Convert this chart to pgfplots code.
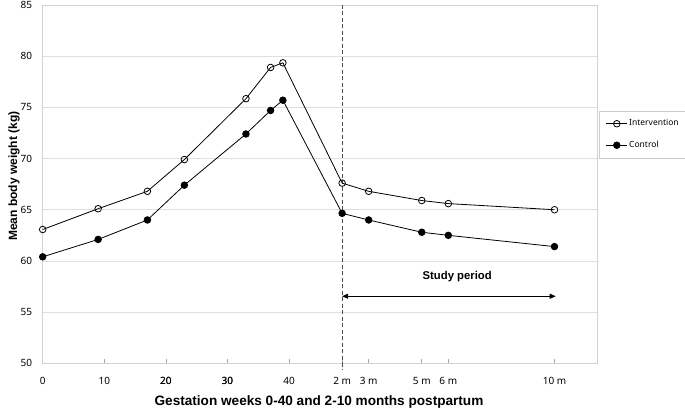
\documentclass[border=0pt]{standalone}
\usepackage{fontspec}
\setmainfont{Noto Sans}
\newfontfamily\labfont{Liberation Sans}
\usepackage{pgfplots}
\pgfplotsset{compat=1.18}
\usetikzlibrary{arrows.meta}
\begin{document}
\begin{tikzpicture}
\begin{axis}[
  scale only axis,
  width=554.3pt, height=358.3pt,
  xmin=0, xmax=90, ymin=50, ymax=85,
  clip=false,
  /pgf/number format/assume math mode=true,
  axis line style={draw=gray!35, line width=0.8pt},
  ytick={50,55,60,65,70,75,80,85},
  ymajorgrids,
  grid style={draw=gray!25, line width=0.8pt},
  ytick style={draw=none},
  xtick={0,10,20,30,40,48.62,52.93,61.55,65.86,83.1},
  xticklabels={0,10,20,30,40,2 m,3 m,5 m,6 m,10 m},
  xtick pos=bottom, ytick pos=left,
  tick align=inside,
  major tick length=4pt,
  xtick style={draw=gray!70, line width=0.7pt},
  tick label style={font=\fontsize{10}{12}\selectfont, inner sep=0pt},
  yticklabel style={anchor=east, xshift=-10.4pt},
  xticklabel style={anchor=north, yshift=-14pt},
  every axis x label/.style={at={(axis description cs:0.4985,0)}, yshift=-38.4pt, anchor=center, font=\labfont\bfseries\fontsize{13.6}{15}\selectfont},
  every axis y label/.style={at={(axis description cs:0,0.522)}, xshift=-28.7pt, rotate=90, anchor=center, font=\labfont\bfseries\fontsize{12}{14}\selectfont},
  xlabel={Gestation weeks 0-40 and 2-10 months postpartum},
  ylabel={Mean body weight (kg)},
  legend style={at={(axis description cs:1.004,0.705)}, anchor=north west,
    draw=gray!40, line width=0.6pt, fill=white,
    font=\fontsize{8.5}{10}\selectfont,
    nodes={inner sep=0pt, text height=6.5pt, text depth=2pt},
    row sep=13pt, column sep=1.5pt, inner xsep=6.4pt, inner ysep=8.5pt},
  legend cell align=left,
  legend image code/.code={\draw[mark repeat=2,mark phase=2,#1] plot coordinates {(0pt,0pt)(10.5pt,0pt)(21pt,0pt)};},
]
\draw[black!70, line width=0.7pt, dash pattern=on 4pt off 2.5pt] (axis cs:48.62,85) -- ([yshift=-6pt]axis cs:48.62,50);
\addplot[black, line width=0.8pt, mark=o, mark size=3.3pt, mark options={fill=white, draw=black, solid, line width=0.8pt}]
  coordinates {(0,63.07) (9,65.1) (17,66.8) (23,69.9) (33,75.85) (37,78.9) (39,79.35)
               (48.62,67.6) (52.93,66.8) (61.55,65.9) (65.86,65.6) (83.1,65.0)};
\addlegendentry{Intervention}
\addplot[black, line width=0.8pt, mark=*, mark size=3.3pt, mark options={fill=black, draw=black, solid}]
  coordinates {(0,60.4) (9,62.1) (17,64.0) (23,67.4) (33,72.4) (37,74.7) (39,75.7)
               (48.62,64.65) (52.93,64.0) (61.55,62.8) (65.86,62.5) (83.1,61.4)};
\addlegendentry{Control}
\draw[line width=0.8pt, {Triangle[length=6pt,width=5pt]}-{Triangle[length=6pt,width=5pt]}] (axis cs:48.62,56.55) -- (axis cs:83.3,56.55);
\node[font=\labfont\bfseries\fontsize{11.3}{13}\selectfont, anchor=center] at (axis cs:67.3,58.43) {Study period};
\node[font=\fontsize{10}{12}\selectfont, inner sep=0pt, anchor=north, yshift=-14pt] at (axis cs:20,50) {20};
\node[font=\fontsize{10}{12}\selectfont, inner sep=0pt, anchor=north, yshift=-14pt] at (axis cs:30,50) {30};
\end{axis}
\pgfresetboundingbox
\path[use as bounding box] (-42.7pt,-48.7pt) rectangle (642.3pt,363.3pt);
\end{tikzpicture}
\end{document}
